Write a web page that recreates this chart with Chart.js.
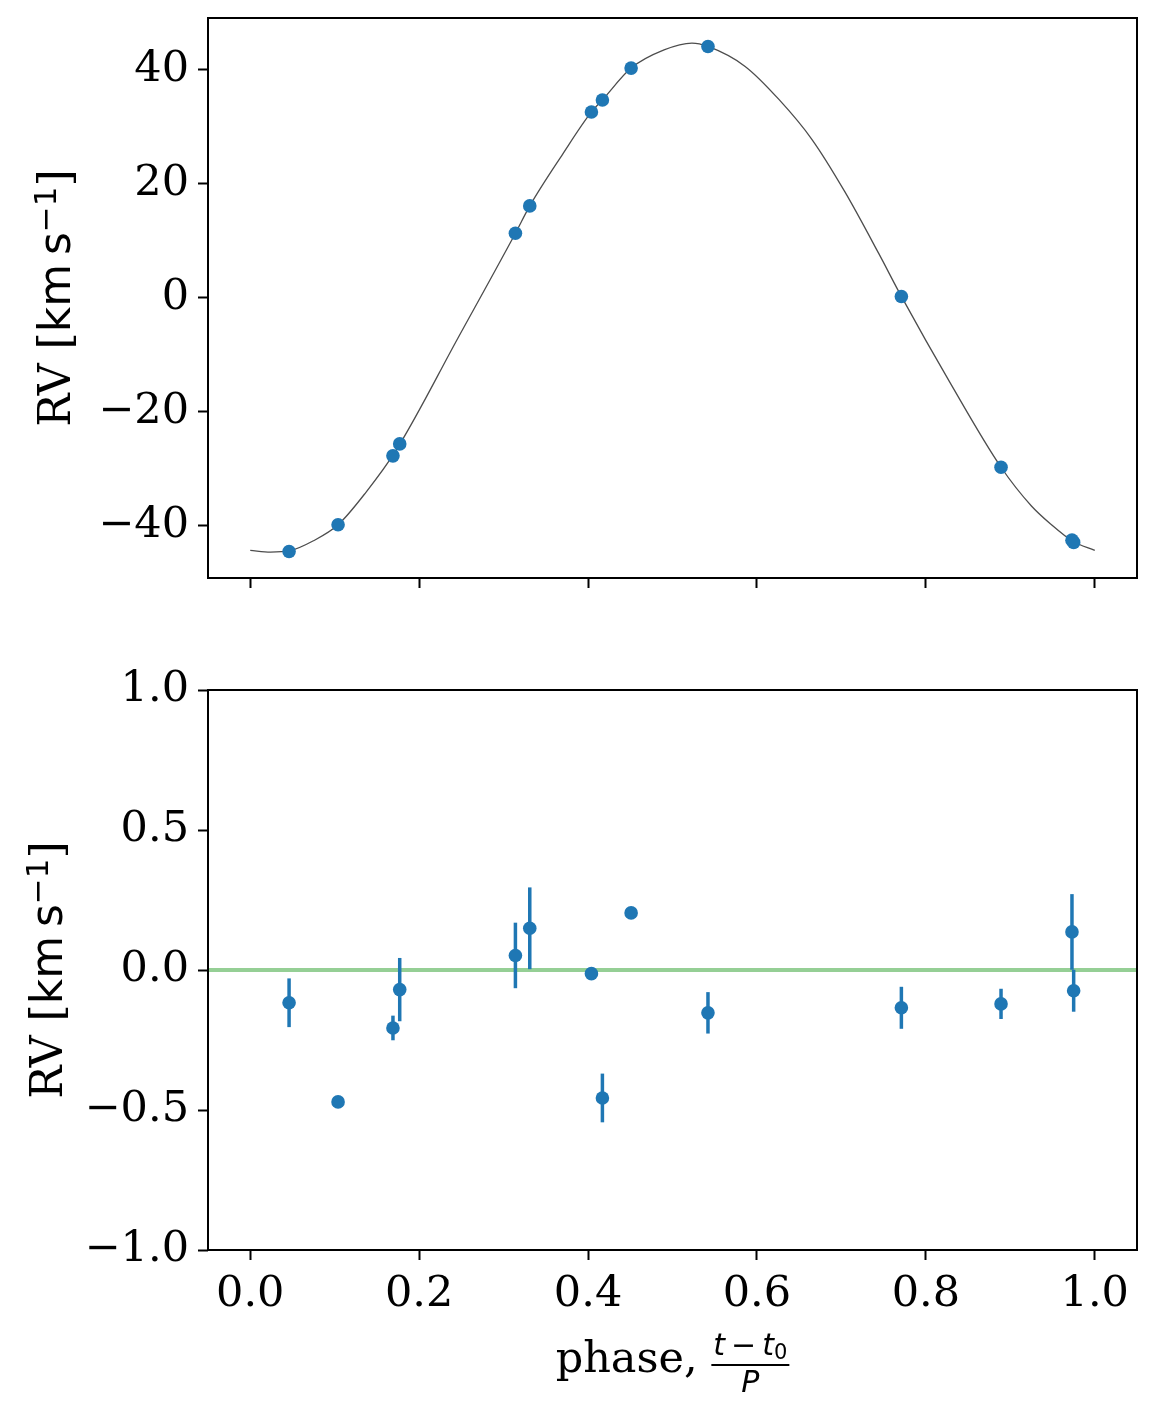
<!DOCTYPE html>
<html>
<head>
<meta charset="utf-8">
<title>RV phase plot</title>
<script src="https://cdn.jsdelivr.net/npm/chart.js@4.4.1/dist/chart.umd.min.js"></script>
<style>
  body { margin: 0; background: #fff; }
  canvas { position: absolute; left: 0; }
  #top { top: 0; }
  #bottom { top: 640px; }
</style>
</head>
<body>
<canvas id="top" width="1158" height="640"></canvas>
<canvas id="bottom" width="1158" height="774"></canvas>
<script>
// model curve
const modelPhase = [0.0, 0.024, 0.046, 0.075, 0.104, 0.137, 0.173, 0.246, 0.314, 0.331, 0.37, 0.404, 0.417, 0.451, 0.49, 0.523, 0.542, 0.586, 0.626, 0.665, 0.704, 0.744, 0.771, 0.83, 0.889, 0.925, 0.948, 0.974, 1.0];
const modelRV = [-44.4, -44.7, -44.5, -42.7, -39.9, -34.2, -26.75, -7.1, 11.3, 16.1, 25.2, 32.6, 34.7, 40.3, 43.5, 44.7, 44.1, 40.6, 34.8, 27.8, 18.6, 7.8, 0.2, -15.3, -29.8, -36.6, -39.8, -42.8, -44.4];

// observations
const obsPhase = [0.046, 0.104, 0.169, 0.177, 0.314, 0.331, 0.404, 0.417, 0.451, 0.542, 0.771, 0.889, 0.973, 0.975];
const obsRV = [-44.6, -39.9, -27.8, -25.7, 11.3, 16.1, 32.6, 34.7, 40.3, 44.1, 0.2, -29.8, -42.6, -43.0];
const residual = [-0.117, -0.471, -0.207, -0.070, 0.052, 0.149, -0.013, -0.457, 0.204, -0.153, -0.135, -0.121, 0.136, -0.074];
const residualErr = [0.087, 0.015, 0.044, 0.113, 0.117, 0.146, 0.015, 0.087, 0.015, 0.074, 0.075, 0.054, 0.135, 0.075];

const phaseTicks = [0, 0.2, 0.4, 0.6, 0.8, 1.0];
const rvTicks = [-40, -20, 0, 20, 40];
const resTicks = [-1, -0.5, 0, 0.5, 1];

const blue = '#1f77b4';
const serif = '"DejaVu Serif", serif';
const sans = '"DejaVu Sans", sans-serif';
Chart.defaults.font.family = serif;
Chart.defaults.color = '#000';

const minus = (s) => s.replace('-', '\u2212');
const toXY = (xs, ys) => xs.map((x, i) => ({ x: x, y: ys[i] }));

// keep the axes box where matplotlib put it
const fixWidth = (w) => (s) => { s.width = w; s.paddingTop = 0; s.paddingBottom = 0; };
const fixHeight = (h) => (s) => { s.height = h; s.paddingLeft = 0; s.paddingRight = 0; };
const setTicks = (vals) => (s) => { s.ticks = vals.map(v => ({ value: v })); };

const tickGrid = { drawOnChartArea: false, drawTicks: true, tickLength: 10, tickWidth: 2, tickColor: '#000' };

const frame = {
  id: 'frame',
  afterDraw(chart) {
    const a = chart.chartArea, ctx = chart.ctx;
    ctx.save();
    ctx.strokeStyle = '#000';
    ctx.lineWidth = 2;
    ctx.strokeRect(a.left, a.top, a.right - a.left, a.bottom - a.top);
    ctx.restore();
  }
};

const errorBars = {
  id: 'errorBars',
  beforeDatasetDraw(chart, args) {
    const ds = chart.data.datasets[args.index];
    if (!ds.errors) return;
    const xs = chart.scales.x, ys = chart.scales.y, ctx = chart.ctx;
    ctx.save();
    ctx.strokeStyle = blue;
    ctx.lineWidth = 3.5;
    ds.data.forEach((p, i) => {
      const px = xs.getPixelForValue(p.x);
      ctx.beginPath();
      ctx.moveTo(px, ys.getPixelForValue(p.y - ds.errors[i]));
      ctx.lineTo(px, ys.getPixelForValue(p.y + ds.errors[i]));
      ctx.stroke();
    });
    ctx.restore();
  }
};

// y label: RV [km s^-1], serif + mathtext-ish sans
const rvLabel = {
  id: 'rvLabel',
  afterDraw(chart, args, opts) {
    const ctx = chart.ctx, a = chart.chartArea;
    const parts = [
      ['RV [', '44px ' + serif, 0],
      ['km', '44px ' + sans, 0],
      ['\u2009', '44px ' + sans, 0],
      ['s', '44px ' + sans, 0],
      ['\u22121', '31px ' + sans, -14],
      [']', '44px ' + serif, 0]
    ];
    let total = 0;
    parts.forEach(p => { ctx.font = p[1]; p.push(ctx.measureText(p[0]).width); total += p[3]; });
    ctx.save();
    ctx.translate(opts.x, (a.top + a.bottom) / 2);
    ctx.rotate(-Math.PI / 2);
    ctx.fillStyle = '#000';
    ctx.textBaseline = 'alphabetic';
    let x = -total / 2;
    parts.forEach(p => { ctx.font = p[1]; ctx.fillText(p[0], x, p[2]); x += p[3]; });
    ctx.restore();
  }
};

// x label: phase, (t - t0) / P
const phaseLabel = {
  id: 'phaseLabel',
  afterDraw(chart) {
    const ctx = chart.ctx, a = chart.chartArea;
    ctx.save();
    ctx.fillStyle = '#000';
    ctx.textBaseline = 'alphabetic';
    ctx.font = '43px ' + serif;
    const word = 'phase, ';
    const wWord = ctx.measureText(word).width;
    const num = [
      ['t', 'italic 30px ' + sans, 0],
      ['\u2009\u2212\u2009', '30px ' + sans, 0],
      ['t', 'italic 30px ' + sans, 0],
      ['0', '21px ' + sans, 4]
    ];
    let wNum = 0;
    num.forEach(p => { ctx.font = p[1]; p.push(ctx.measureText(p[0]).width); wNum += p[3]; });
    ctx.font = 'italic 30px ' + sans;
    const wDen = ctx.measureText('P').width;
    const wFrac = Math.max(wNum, wDen) + 4;
    const left = (a.left + a.right) / 2 - (wWord + wFrac) / 2;
    const base = a.bottom + 122;
    ctx.font = '43px ' + serif;
    ctx.fillText(word, left, base);
    const fx = left + wWord;
    let x = fx + (wFrac - wNum) / 2;
    num.forEach(p => { ctx.font = p[1]; ctx.fillText(p[0], x, a.bottom + 105 + p[2]); x += p[3]; });
    ctx.fillRect(fx, a.bottom + 114, wFrac, 2);
    ctx.font = 'italic 30px ' + sans;
    ctx.fillText('P', fx + (wFrac - wDen) / 2, a.bottom + 142);
    ctx.restore();
  }
};

const baseOptions = {
  responsive: false,
  animation: false,
  events: [],
  plugins: { legend: { display: false }, tooltip: { enabled: false } }
};

new Chart(document.getElementById('top'), {
  type: 'scatter',
  data: {
    datasets: [
      { data: toXY(obsPhase, obsRV), backgroundColor: blue, borderWidth: 0, pointRadius: 6.8 },
      { data: toXY(modelPhase, modelRV), showLine: true, borderColor: 'rgba(0,0,0,0.7)', borderWidth: 1.3,
        pointRadius: 0, cubicInterpolationMode: 'monotone', fill: false }
    ]
  },
  options: Object.assign({}, baseOptions, {
    layout: { padding: { top: 18, right: 21, left: 0, bottom: 0 } },
    plugins: Object.assign({}, baseOptions.plugins, { rvLabel: { x: 70 } }),
    scales: {
      x: { type: 'linear', min: -0.05, max: 1.05, bounds: 'data',
        afterBuildTicks: setTicks(phaseTicks), afterFit: fixHeight(62),
        grid: tickGrid, border: { display: false }, ticks: { display: false } },
      y: { type: 'linear', min: -49.25, max: 49.1, bounds: 'data',
        afterBuildTicks: setTicks(rvTicks), afterFit: fixWidth(208),
        grid: tickGrid, border: { display: false },
        ticks: { font: { size: 43 }, padding: 9, callback: v => minus(String(v)) } }
    }
  }),
  plugins: [frame, rvLabel]
});

new Chart(document.getElementById('bottom'), {
  type: 'scatter',
  data: {
    datasets: [
      { data: toXY(obsPhase, residual), errors: residualErr, backgroundColor: blue, borderWidth: 0, pointRadius: 6.8 },
      { data: [{ x: -0.05, y: 0 }, { x: 1.05, y: 0 }], showLine: true, borderColor: 'rgba(44,160,44,0.5)',
        borderWidth: 3.8, pointRadius: 0, fill: false }
    ]
  },
  options: Object.assign({}, baseOptions, {
    layout: { padding: { top: 50, right: 21, left: 0, bottom: 0 } },
    plugins: Object.assign({}, baseOptions.plugins, { rvLabel: { x: 62 } }),
    scales: {
      x: { type: 'linear', min: -0.05, max: 1.05, bounds: 'data',
        afterBuildTicks: setTicks(phaseTicks), afterFit: fixHeight(164),
        grid: tickGrid, border: { display: false },
        ticks: { font: { size: 43 }, padding: 9, maxRotation: 0, callback: v => v.toFixed(1) } },
      y: { type: 'linear', min: -1, max: 1, bounds: 'data',
        afterBuildTicks: setTicks(resTicks), afterFit: fixWidth(208),
        grid: tickGrid, border: { display: false },
        ticks: { font: { size: 43 }, padding: 9, callback: v => minus(v.toFixed(1)) } }
    }
  }),
  plugins: [frame, errorBars, rvLabel, phaseLabel]
});
</script>
</body>
</html>
